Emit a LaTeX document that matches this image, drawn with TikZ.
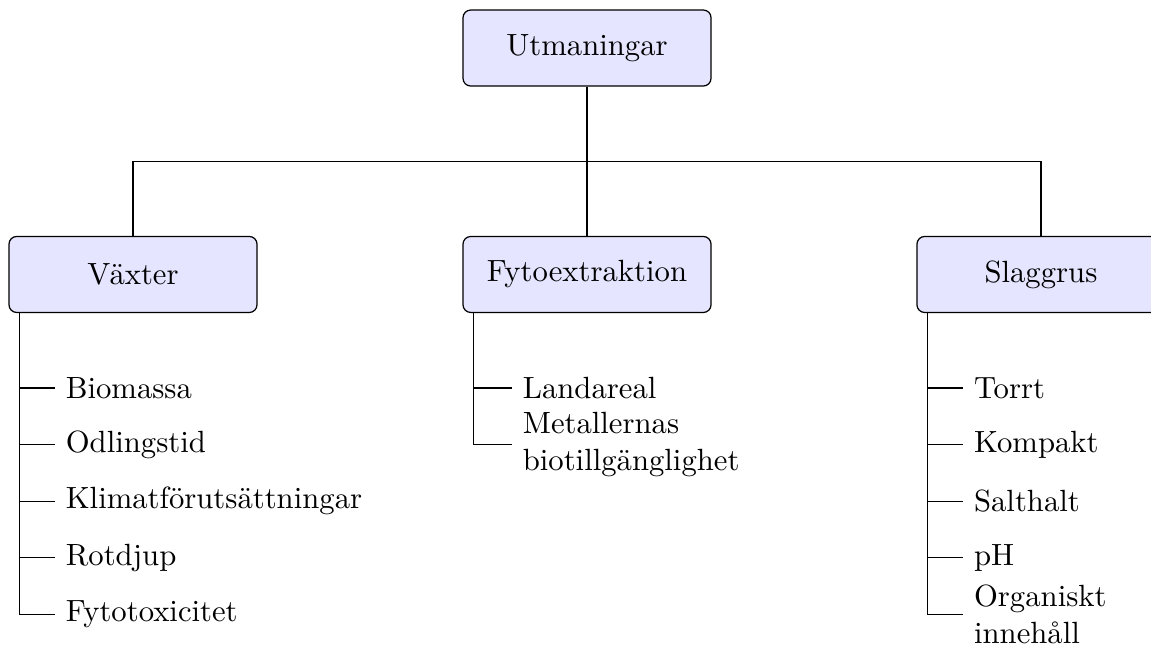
\documentclass[tikz,border=0pt]{standalone}
\usepackage{tikz}

\begin{document}
\begin{tikzpicture}

\def\boxw{2.84}
\def\boxh{0.87}
\def\gap{0.648}
\def\off{0.126}
\def\drop{0.86}

\tikzset{
    head/.style={draw, fill=blue!10, rounded corners=2.5pt, minimum width=\boxw cm, minimum height=\boxh cm},
    leaf/.style={anchor=west, align=left}
}

\useasboundingbox (0,0) rectangle (13.18,-7.42);

%boxes
\node[head] (top) at (6.722,-0.55) {Utmaningar};
\node[head] (vax) at (1.523,-3.143) {Växter};
\node[head] (fyto) at (6.722,-3.143) {Fytoextraktion};
\node[head] (slagg) at (11.92,-3.143) {Slaggrus};

%top edges
\foreach \c in {vax, fyto, slagg}{
    \draw (top.south) -- ++(0,-\drop) -| (\c.north);
}

%vaxter
\foreach \t [count=\i] in {Biomassa, Odlingstid, Klimatförutsättningar, Rotdjup, Fytotoxicitet}{
    \node[leaf] (vax\i) at (0.63,-3.795-\gap*\i) {\t};
    \draw (vax.south west) ++(\off,0) |- (vax\i.west);
}

%fytoextraktion
\foreach \t [count=\i] in {Landareal, {Metallernas\\biotillgänglighet}}{
    \node[leaf] (fyto\i) at (5.863,-3.795-\gap*\i) {\t};
    \draw (fyto.south west) ++(\off,0) |- (fyto\i.west);
}

%slaggrus
\foreach \t [count=\i] in {Torrt, Kompakt, Salthalt, pH, {Organiskt\\innehåll}}{
    \node[leaf] (slagg\i) at (11.03,-3.795-\gap*\i) {\t};
    \draw (slagg.south west) ++(\off,0) |- (slagg\i.west);
}

\end{tikzpicture}
\end{document}
